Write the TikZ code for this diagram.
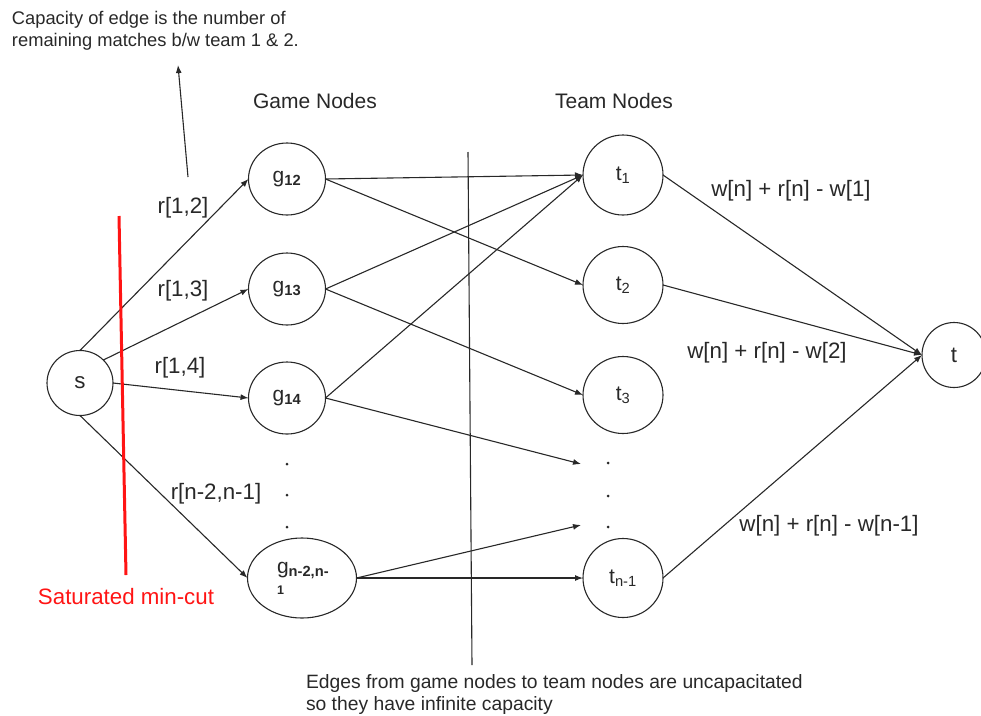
\documentclass[tikz,border=0pt]{standalone}
\usepackage{fontspec}
\setmainfont{Liberation Sans}
\usetikzlibrary{arrows.meta,shapes.geometric}
\definecolor{cutred}{RGB}{255,20,20}
\definecolor{ink}{RGB}{40,40,40}
\begin{document}
\begin{tikzpicture}[x=1pt,y=-1pt,
  every node/.style={inner sep=0pt,outer sep=0pt,text=ink},
  vert/.style={draw=ink,line width=1.1pt,ellipse,inner sep=0pt},
  lbl/.style={font=\fontsize{21}{24}\selectfont},
  elbl/.style={font=\fontsize{22.3}{24}\selectfont},
  note/.style={font=\fontsize{19.3}{22}\selectfont,align=left},
  topnotestyle/.style={font=\fontsize{18.3}{22}\selectfont,align=left},
  conn/.style={draw=ink,line width=1.1pt,-{Latex[length=8pt,width=6pt]}},
  dotmark/.style={circle,fill=ink,minimum size=3pt}]
\useasboundingbox (0,0) rectangle (981,715);

% vertices
\node[vert,minimum width=66pt,minimum height=65pt,elbl] (s) at (80,383) {s};
\node[vert,minimum width=77pt,minimum height=72pt,lbl] (g12) at (287,179) {g\textsubscript{\bfseries 12}};
\node[vert,minimum width=77pt,minimum height=72pt,lbl] (g13) at (287,289) {g\textsubscript{\bfseries 13}};
\node[vert,minimum width=77pt,minimum height=72pt,lbl] (g14) at (287,398) {g\textsubscript{\bfseries 14}};
\node[vert,minimum width=109pt,minimum height=80pt] (gn) at (302,578) {};
\node[lbl,align=left,anchor=north west] (gntext) at (277,562) {g\textsubscript{\bfseries n-2,n-}\\[-3pt]{\fontsize{12.5}{13}\selectfont\bfseries 1}};
\node[vert,minimum width=80pt,minimum height=80pt,lbl] (t1) at (623,175) {t\textsubscript{1}};
\node[vert,minimum width=80pt,minimum height=77pt,lbl] (t2) at (623,285) {t\textsubscript{2}};
\node[vert,minimum width=80pt,minimum height=77pt,lbl] (t3) at (623,395) {t\textsubscript{3}};
\node[vert,minimum width=80pt,minimum height=79pt,lbl] (tn) at (623,578) {t\textsubscript{n-1}};
\node[vert,minimum width=64pt,minimum height=65pt,elbl] (t) at (954,355) {t};

% dots
\node[dotmark] (gd1) at (287,464) {};
\node[dotmark] (gd2) at (287,495) {};
\node[dotmark] (gd3) at (287,527) {};
\node[dotmark] (td1) at (608,463) {};
\node[dotmark] (td2) at (608,496) {};
\node[dotmark] (td3) at (608,527) {};
\coordinate (d1) at (581,464);
\coordinate (d3) at (581,525);

% source edges
\draw[conn] (s.north) -- (g12.west);
\draw[conn] (s.north east) -- (g13.west);
\draw[conn] (s.east) -- (g14.west);
\draw[conn] (s.south) -- (gn.west);

% game to team
\draw[conn] (g12.east) -- (t1.west);
\draw[conn] (g12.east) -- (t2.west);
\draw[conn] (g13.east) -- (t1.west);
\draw[conn] (g13.east) -- (t3.west);
\draw[conn] (g14.east) -- (t1.west);
\draw[conn] (g14.east) -- (d1);
\draw[conn] (gn.east) -- (d3);
\draw[conn] (gn.east) -- (tn.west);

% team to sink
\draw[conn] (t1.east) -- (t.west);
\draw[conn] (t2.east) -- (t.west);
\draw[conn] (tn.east) -- (t.west);

% edge labels
\node[elbl] (l12) at (183,208) {r[1,2]};
\node[elbl] (l13) at (183,291) {r[1,3]};
\node[elbl] (l14) at (180,368) {r[1,4]};
\node[elbl] (lnn) at (216,494) {r[n-2,n-1]};
\node[elbl] (w1) at (791,191) {w[n] + r[n] - w[1]};
\node[elbl] (w2) at (767,353) {w[n] + r[n] - w[2]};
\node[elbl] (wn) at (829,526) {w[n] + r[n] - w[n-1]};

% headings
\node[lbl] (gh) at (315,101) {Game Nodes};
\node[lbl] (th) at (614,101) {Team Nodes};

% top note and pointer
\node[topnotestyle,anchor=west] (topnote) at (12,31) {Capacity of edge is the number of\\remaining matches b/w team 1 \& 2.};
\coordinate (ptail) at (188,177);
\coordinate (phead) at (178,65);
\draw[conn] (ptail) -- (phead);

% divider and bottom note
\coordinate (vtop) at (468,152);
\coordinate (vbot) at (472,665);
\draw[draw=ink,line width=1.1pt] (vtop) -- (vbot);
\node[note,anchor=west] (botnote) at (306,694) {Edges from game nodes to team nodes are uncapacitated\\so they have infinite capacity};

% min cut
\coordinate (ctop) at (119,216);
\coordinate (cbot) at (126,575);
\draw[cutred,line width=3pt] (ctop) -- (cbot);
\node[elbl,text=cutred] (cutlabel) at (126,597) {Saturated min-cut};
\end{tikzpicture}
\end{document}
